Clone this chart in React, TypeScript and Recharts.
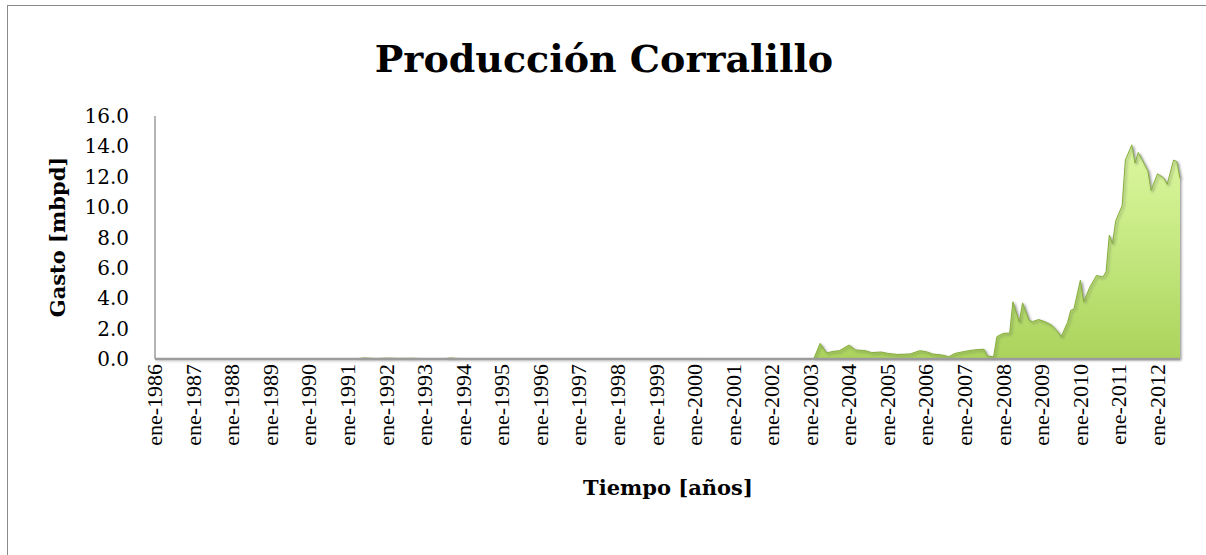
import React from "react";
import { AreaChart, Area, XAxis, YAxis } from "recharts";

// Monthly production (mbpd), sampled at the months where the shape changes
const fechas: string[] = [
  "1986-01", "1991-03", "1991-06", "1991-10", "1992-01", "1992-05", "1992-09", "1993-01",
  "1993-07", "1993-09", "1993-12", "1994-06", "1996-01", "2000-01", "2003-02",
  "2003-04", "2003-06", "2003-08", "2003-10", "2004-01", "2004-03", "2004-06", "2004-08",
  "2004-11", "2005-01", "2005-04", "2005-08", "2005-11", "2006-01", "2006-03", "2006-06",
  "2006-08", "2006-10", "2007-01", "2007-04", "2007-07", "2007-08", "2007-10", "2007-11",
  "2008-01", "2008-03", "2008-04", "2008-06", "2008-07", "2008-09", "2008-10", "2008-12",
  "2009-02", "2009-04", "2009-06", "2009-07", "2009-09", "2009-10", "2009-11", "2010-01",
  "2010-02", "2010-04", "2010-06", "2010-08", "2010-09", "2010-10", "2010-11", "2010-12",
  "2011-02", "2011-03", "2011-05", "2011-06", "2011-07", "2011-10", "2011-11", "2012-01",
  "2012-03", "2012-04", "2012-06", "2012-07", "2012-08",
];

const gasto: number[] = [
  0, 0, 0.07, 0.03, 0.06, 0.04, 0.05, 0.02,
  0.02, 0.07, 0.02, 0.02, 0.01, 0.01, 0,
  1.03, 0.4, 0.5, 0.55, 0.92, 0.6, 0.55, 0.42,
  0.46, 0.37, 0.3, 0.33, 0.55, 0.48, 0.33, 0.26,
  0.15, 0.37, 0.5, 0.6, 0.64, 0.2, 0.15, 1.47,
  1.69, 1.7, 3.77, 2.43, 3.7, 2.57, 2.45, 2.6,
  2.45, 2.24, 1.8, 1.47, 2.4, 3.2, 3.3, 5.2,
  3.77, 4.76, 5.5, 5.4, 5.74, 8.16, 7.6, 9.1,
  10.1, 13.1, 14.1, 12.9, 13.6, 12.4, 11.1, 12.2,
  11.9, 11.5, 13.1, 13.0, 11.9,
];

const yearTicks: number[] = [
  1986, 1987, 1988, 1989, 1990, 1991, 1992, 1993, 1994, 1995, 1996, 1997, 1998, 1999,
  2000, 2001, 2002, 2003, 2004, 2005, 2006, 2007, 2008, 2009, 2010, 2011, 2012,
];
const yTicks: number[] = [0, 2, 4, 6, 8, 10, 12, 14, 16];

const data = fechas.map((f, i) => {
  const [y, m] = f.split("-").map(Number);
  return { t: y + (m - 1) / 12, gasto: gasto[i] };
});

const lastT = data[data.length - 1].t;

const XTick = (props: any) => {
  const { x, y, payload } = props;
  return (
    <g transform={`translate(${x},${y})`}>
      <text
        transform="rotate(-90)"
        textAnchor="end"
        dy="0.33em"
        x={0}
        y={0}
        fill="#000"
        fontSize={22}
        fontFamily="'Liberation Serif', serif"
        style={{ fontFamily: "'Liberation Serif', serif", fontSize: "22px" }}
      >
        {`ene-${payload.value}`}
      </text>
    </g>
  );
};

export default function App() {
  return (
    <div
      style={{
        position: "fixed",
        left: 0,
        top: 0,
        width: 1206,
        height: 555,
        overflow: "hidden",
        background: "#fff",
      }}
    >
      <div
        style={{
          position: "absolute",
          left: 7,
          top: 5,
          width: 1220,
          height: 570,
          border: "1.5px solid #8a8a8a",
        }}
      />
      <div style={{ position: "absolute", left: 0, top: 0 }}>
        <AreaChart
          width={1206}
          height={555}
          data={data}
          margin={{ top: 116, right: 26, bottom: 96, left: 0 }}
        >
          <defs>
            <linearGradient id="verde" x1="0" y1="0" x2="0" y2="1">
              <stop offset="0%" stopColor="#dcf7a0" />
              <stop offset="45%" stopColor="#c6e982" />
              <stop offset="100%" stopColor="#abd35c" />
            </linearGradient>
            <filter id="sombra" x="-5%" y="-5%" width="110%" height="115%">
              <feDropShadow dx="1.5" dy="1.5" stdDeviation="1.2" floodColor="#4a4a4a" floodOpacity="0.55" />
            </filter>
          </defs>
          <XAxis
            dataKey="t"
            type="number"
            domain={[1986, lastT]}
            ticks={yearTicks}
            interval={0}
            height={100}
            tickLine={false}
            axisLine={{ stroke: "#9c9c9c", strokeWidth: 2.5 }}
            tick={<XTick />}
            tickSize={0}
            tickMargin={5}
          />
          <YAxis
            width={155}
            domain={[0, 16]}
            ticks={yTicks}
            interval={0}
            tickLine={false}
            tickSize={0}
            tickMargin={26}
            axisLine={{ stroke: "#9c9c9c", strokeWidth: 1.5 }}
            tickFormatter={(v: number) => v.toFixed(1)}
            tick={{ fill: "#000", fontSize: 20, fontFamily: "'DejaVu Serif', serif" }}
          />
          <Area
            type="linear"
            dataKey="gasto"
            stroke="#86ad3c"
            strokeWidth={1}
            fill="url(#verde)"
            fillOpacity={1}
            filter="url(#sombra)"
            isAnimationActive={false}
            dot={false}
            activeDot={false}
          />
        </AreaChart>
      </div>
      <svg
        width={1206}
        height={555}
        style={{ position: "absolute", left: 0, top: 0, pointerEvents: "none" }}
      >
        <text
          x={604}
          y={72}
          textAnchor="middle"
          style={{ fontFamily: "'DejaVu Serif', serif", fontWeight: "bold", fontSize: 38 }}
        >
          Producción Corralillo
        </text>
        <text
          transform="translate(58,237) rotate(-90)"
          textAnchor="middle"
          dy="0.35em"
          style={{ fontFamily: "'DejaVu Serif', serif", fontWeight: "bold", fontSize: 21 }}
        >
          Gasto [mbpd]
        </text>
        <text
          x={668}
          y={488}
          textAnchor="middle"
          dy="0.35em"
          style={{ fontFamily: "'DejaVu Serif', serif", fontWeight: "bold", fontSize: 21 }}
        >
          Tiempo [años]
        </text>
      </svg>
    </div>
  );
}
